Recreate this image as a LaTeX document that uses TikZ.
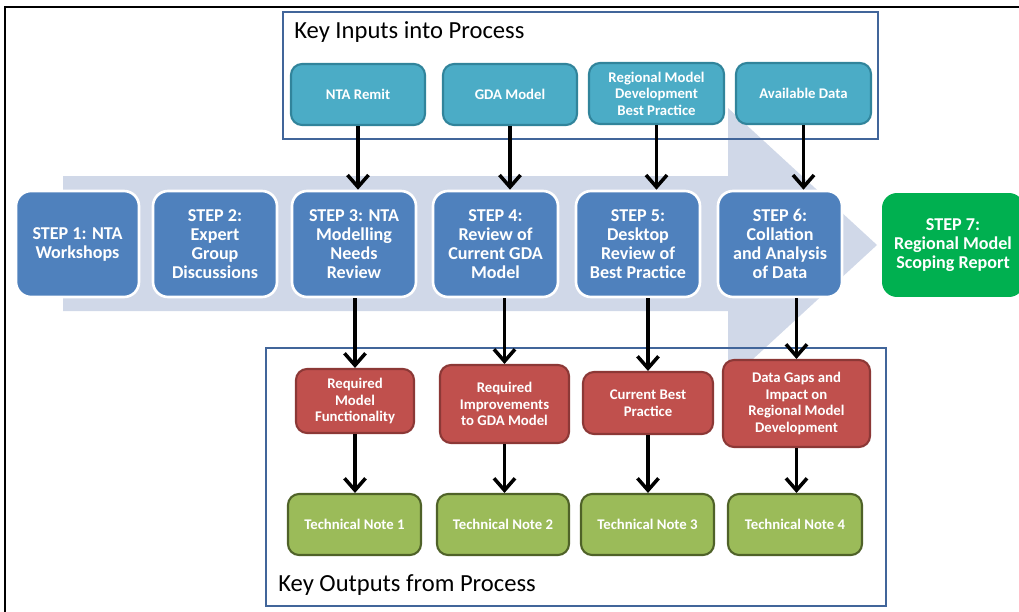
\documentclass[tikz,border=0pt]{standalone}
\usepackage{fontspec}
\setmainfont{Carlito}
\usetikzlibrary{arrows.meta}

\definecolor{stepblue}{HTML}{4F81BD}
\definecolor{flowgrey}{HTML}{D0D8E8}
\definecolor{inputteal}{HTML}{4BACC6}
\definecolor{inputedge}{HTML}{31849B}
\definecolor{outred}{HTML}{C0504D}
\definecolor{outedge}{HTML}{8C3836}
\definecolor{noteolive}{HTML}{9BBB59}
\definecolor{noteedge}{HTML}{4F6228}
\definecolor{reportgreen}{HTML}{00B050}
\definecolor{keyframe}{HTML}{41659A}

\tikzset{
  stepbox/.style={draw=white, line width=1.5pt, fill=stepblue, rounded corners=0.3cm,
    text=white, align=center, inner sep=1pt, minimum height=2.12cm,
    font=\fontsize{10.3}{10.8}\selectfont\bfseries},
  inbox/.style={draw=inputedge, line width=1.2pt, fill=inputteal, rounded corners=0.22cm,
    text=white, align=center, inner sep=1pt, minimum height=1.22cm,
    font=\fontsize{8.4}{9.4}\selectfont\bfseries},
  outbox/.style={inbox, draw=outedge, fill=outred},
  notebox/.style={inbox, draw=noteedge, fill=noteolive, minimum height=1.22cm},
  keyframe/.style={draw=keyframe, line width=1.3pt},
  keytitle/.style={anchor=west, inner sep=0pt, font=\fontsize{14}{16}\selectfont}
}

\begin{document}
\begin{tikzpicture}[x=0.02cm, y=-0.02cm, >={Straight Barb[length=2.4mm,width=4.2mm]}]
\useasboundingbox (0,0) rectangle (1019,612);
\draw[line width=1pt] (5,640) -- (5,7) -- (1040,7);

% process arrow behind the steps
\fill[flowgrey] (63,176) -- (728,176) -- (728,108) -- (877,245) -- (728,382) -- (728,311) -- (63,311) -- cycle;

% input and output frames
\draw[keyframe] (283,12) rectangle (878,139);
\node[keytitle] (intitle) at (294,32) {Key Inputs into Process};
\draw[keyframe] (266,348) rectangle (886,606);
\node[keytitle] (outtitle) at (278,585) {Key Outputs from Process};

% steps
\node[stepbox, minimum width=2.46cm] (stepone) at (77.5,244) {STEP 1: NTA\\Workshops};
\node[stepbox, minimum width=2.48cm] (steptwo) at (215,244) {STEP 2:\\Expert\\Group\\Discussions};
\node[stepbox, minimum width=2.48cm] (stepthree) at (354,244) {STEP 3: NTA\\Modelling\\Needs\\Review};
\node[stepbox, minimum width=2.5cm] (stepfour) at (495.5,244) {STEP 4:\\Review of\\Current GDA\\Model};
\node[stepbox, minimum width=2.48cm] (stepfive) at (638,244) {STEP 5:\\Desktop\\Review of\\Best Practice};
\node[stepbox, minimum width=2.48cm] (stepsix) at (780,244) {STEP 6:\\Collation\\and Analysis\\of Data};
\node[stepbox, draw=none, fill=reportgreen, minimum width=2.84cm, minimum height=2.08cm] (stepseven) at (953,245) {STEP 7:\\Regional Model\\Scoping Report};

% inputs
\node[inbox, minimum width=2.68cm] (remit) at (358,94.5) {NTA Remit};
\node[inbox, minimum width=2.68cm] (gdamodel) at (510,94.5) {GDA Model};
\node[inbox, minimum width=2.7cm] (bestprac) at (656.5,93.5) {Regional Model\\Development\\Best Practice};
\node[inbox, minimum width=2.7cm] (availdata) at (803.5,93.5) {Available Data};

% outputs
\node[outbox, minimum width=2.36cm, minimum height=1.28cm] (needs) at (355,401) {Required\\Model\\Functionality};
\node[outbox, minimum width=2.58cm, minimum height=1.56cm] (improve) at (504.5,404) {Required\\Improvements\\to GDA Model};
\node[outbox, minimum width=2.6cm, minimum height=1.24cm] (current) at (648,403) {Current Best\\Practice};
\node[outbox, minimum width=2.94cm, minimum height=1.74cm] (gaps) at (796.5,403.5) {Data Gaps and\\Impact on\\Regional Model\\Development};

\node[notebox, minimum width=2.66cm] (noteone) at (354.5,524.5) {Technical Note 1};
\node[notebox, minimum width=2.64cm] (notetwo) at (503,524.5) {Technical Note 2};
\node[notebox, minimum width=2.66cm] (notethree) at (647.5,524.5) {Technical Note 3};
\node[notebox, minimum width=2.68cm] (notefour) at (795,524.5) {Technical Note 4};

% connectors
\draw[->, line width=2pt] (remit.south) -- (remit.south |- stepthree.north);
\draw[->, line width=2pt] (gdamodel.south) -- (gdamodel.south |- stepfour.north);
\draw[->, line width=2pt] (bestprac.south) -- (bestprac.south |- stepfive.north);
\draw[->, line width=2pt] (availdata.south) -- (availdata.south |- stepsix.north);

\draw[->, line width=2pt] (needs.north |- stepthree.south) -- (needs.north);
\draw[->, line width=2pt] (improve.north |- stepfour.south) -- (improve.north);
\draw[->, line width=2pt] (current.north |- stepfive.south) -- (current.north);
\draw[->, line width=2pt] (gaps.north |- stepsix.south) -- (gaps.north);

\draw[->, line width=2pt] (needs.south) -- (needs.south |- noteone.north);
\draw[->, line width=2pt] (improve.south) -- (improve.south |- notetwo.north);
\draw[->, line width=2pt] (current.south) -- (current.south |- notethree.north);
\draw[->, line width=2pt] (gaps.south) -- (gaps.south |- notefour.north);
\end{tikzpicture}
\end{document}
